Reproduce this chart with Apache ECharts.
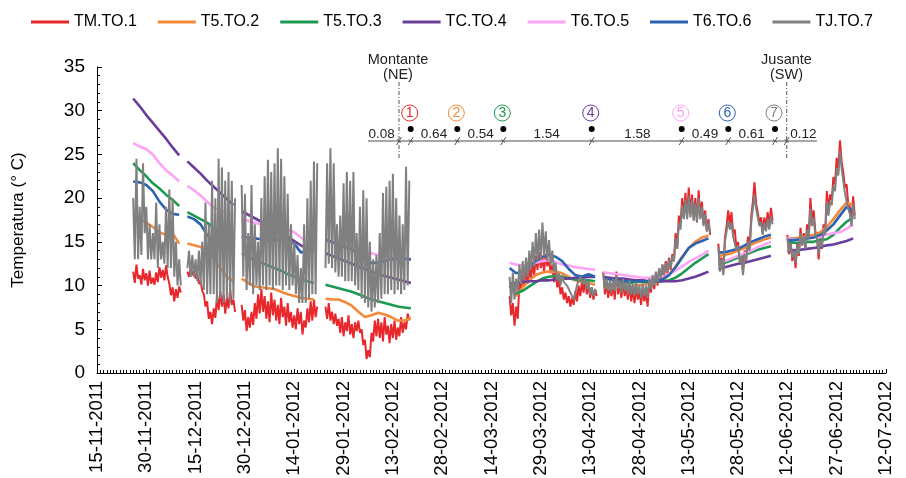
<!DOCTYPE html>
<html>
<head>
<meta charset="utf-8">
<script src="https://cdn.jsdelivr.net/npm/echarts@6/dist/echarts.min.js"></script>
<style>html,body{margin:0;padding:0;background:#fff}#c{width:906px;height:478px}</style>
</head>
<body>
<div id="c"></div>
<script>
// ---------- DATA ----------
// x = days since 15-11-2011; every segment starts at segStart[i]
const segStart = [11, 27.5, 44, 69.5, 125.5, 154, 189, 210];
const smoothStep = 2;   // smooth sensors: one reading every 2 days
const noisyStep = 0.5;  // TM.TO.1 and TJ.TO.7: one reading every half day
const xTickLabels = ['15-11-2011','30-11-2011','15-12-2011','30-12-2011','14-01-2012','29-01-2012','13-02-2012','28-02-2012','14-03-2012','29-03-2012','13-04-2012','28-04-2012','13-05-2012','28-05-2012','12-06-2012','27-06-2012','12-07-2012'];
const seriesNames = ['TM.TO.1','T5.TO.2','T5.TO.3','TC.TO.4','T6.TO.5','T6.TO.6','TJ.TO.7'];

const TM_TO_1 = [
  [11.6,10.3,12.4,10.8,11.2,10.1,11.9,10.6,11.4,10.0,11.7,10.2,10.9,10.1,11.5,10.4,12.1,10.9,11.8,10.6,12.3,11.0,10.2,8.9,9.8,8.2,9.6,8.6,9.9,9.2],
  [11.6,11.0,12.0,11.2,11.7,10.8,11.3,10.2,10.6,9.4,9.0,7.6,8.2,6.2,7.0,5.6,7.4,6.3,8.8,7.2,9.4,7.6,9.0,6.8,8.6,7.4,9.6,7.8,8.4,7.0],
  [7.8,6.0,7.2,4.8,6.4,5.2,7.0,5.5,8.0,6.2,9.0,6.8,9.6,7.0,8.8,6.2,8.2,5.8,9.2,6.6,8.4,6.0,7.8,5.6,8.6,6.4,7.6,5.4,8.0,5.8,7.0,5.2,6.6,5.0,7.4,5.6,7.0,4.4,6.0,5.2,7.4,5.8,8.2,6.0,8.4,6.4,7.6],
  [7.6,6.2,8.0,6.0,7.0,5.6,6.8,5.4,6.2,4.6,6.4,4.2,5.8,4.8,6.6,4.4,5.6,4.0,5.8,4.8,6.0,4.6,5.0,3.2,3.8,1.6,2.6,1.8,4.6,3.6,6.0,4.2,6.2,4.0,5.8,3.6,6.4,4.4,5.4,3.4,5.6,4.0,6.0,3.8,5.2,4.2,6.4,4.6,5.8,5.0,6.8,6.0],
  [8.8,6.6,8.0,5.4,7.6,6.2,10.5,9.4,11.2,10.0,11.8,10.2,12.0,10.8,12.6,11.2,13.4,11.8,13.8,12.0,13.2,11.6,13.6,12.2,13.0,11.4,12.4,10.4,11.6,9.8,10.6,9.0,9.8,8.4,9.2,8.0,8.8,7.6,8.6,7.8,9.4,8.2,10.0,8.8,10.4,9.2,10.8,9.0,10.2,8.6,9.8,8.4,9.4,8.8],
  [11.6,9.0,10.4,8.6,10.0,8.8,10.2,8.4,11.6,9.0,10.2,8.6,10.4,8.8,9.8,8.4,10.2,8.2,9.6,8.0,9.8,8.4,9.4,7.8,9.6,8.2,9.2,7.6,10.4,9.2,11.0,9.6,11.4,10.0,12.0,10.4,12.4,11.0,12.8,11.4,13.2,11.8,13.6,12.8,16.0,14.4,18.0,17.0,20.0,18.0,20.6,17.8,21.2,18.2,20.4,17.6,20.0,17.4,20.9,18.0,19.6,17.0,18.6,16.2,17.6,15.8],
  [14.8,12.0,13.2,11.4,15.4,16.8,18.6,17.0,18.4,16.0,16.4,14.2,15.0,13.0,13.6,11.6,14.0,13.2,15.6,14.2,17.8,19.6,21.8,19.4,19.6,17.2,17.8,16.0,17.8,16.6,18.4,16.8,18.9,17.4],
  [15.8,13.6,15.0,12.8,14.2,12.0,14.8,13.4,16.6,14.6,16.0,14.2,17.0,15.6,20.0,17.4,18.6,16.2,15.8,13.0,15.4,14.2,17.0,16.0,20.8,18.6,20.4,19.8,22.4,21.6,24.6,23.4,26.6,24.2,23.0,21.2,21.6,19.4,19.0,17.2,20.2,18.0]
];
const T5_TO_2 = [
  [18.0,17.6,17.2,16.7,16.1,15.8,16.0,14.8],
  [14.8,14.6,14.4,14.0,13.2,12.0,11.0,10.5],
  [10.8,10.3,9.9,9.8,9.7,9.6,9.3,9.0,8.8,8.6,8.5,8.4],
  [8.5,8.4,8.4,8.1,7.7,7.0,6.4,6.6,6.9,6.7,6.4,6.0,6.0,6.3],
  [10.0,8.8,9.8,10.6,11.2,11.5,11.6,11.6,11.4,11.0,10.6,10.4,10.3,10.1],
  [10.0,9.7,9.8,9.9,9.9,10.0,10.1,10.2,10.3,10.6,11.2,12.2,13.3,14.3,15.0,15.5,15.7],
  [13.4,13.5,13.7,14.0,14.3,14.7,15.0,15.3,15.5],
  [15.4,15.4,15.5,15.6,15.8,16.1,16.7,17.6,18.6,19.5,19.2]
];
const T5_TO_3 = [
  [24.0,23.2,22.5,21.7,21.1,20.4,19.8,19.1],
  [18.4,18.0,17.6,17.2,16.6,15.8,14.9,14.0],
  [13.7,13.3,12.9,12.6,12.3,12.0,11.7,11.3,11.0,10.7,10.5,10.3],
  [10.1,9.9,9.7,9.5,9.3,9.0,8.7,8.4,8.2,8.0,7.8,7.6,7.5,7.4],
  [10.0,9.1,9.4,9.9,10.4,10.8,11.0,11.1,11.0,10.8,10.7,10.6,10.6,10.5],
  [10.0,10.1,10.2,10.3,10.3,10.4,10.4,10.4,10.4,10.5,10.6,10.9,11.4,12.0,12.6,13.1,13.6],
  [12.4,12.6,12.9,13.2,13.5,13.8,14.1,14.3,14.5],
  [15.0,14.9,14.9,15.0,15.0,15.2,15.3,15.8,16.6,17.3,17.8]
];
const TC_TO_4 = [
  [31.4,30.5,29.5,28.6,27.7,26.8,25.8,24.9],
  [24.2,23.5,22.8,22.0,21.3,20.6,19.9,19.2],
  [18.5,18.1,17.7,17.3,16.9,16.5,16.1,15.6,15.1,14.6,14.2,13.9],
  [13.7,13.4,13.1,12.8,12.5,12.2,11.9,11.6,11.3,11.1,10.9,10.7,10.5,10.3],
  [10.2,10.3,10.4,10.5,10.5,10.6,10.6,10.7,10.8,10.8,10.9,10.9,11.0,11.0],
  [11.0,10.9,10.8,10.8,10.7,10.6,10.6,10.5,10.5,10.5,10.5,10.5,10.6,10.8,11.0,11.3,11.6],
  [11.9,12.1,12.3,12.5,12.6,12.8,13.0,13.2,13.4],
  [13.9,14.0,14.1,14.2,14.3,14.4,14.6,14.7,14.9,15.1,15.4]
];
const T6_TO_5 = [
  [26.3,25.9,25.6,25.0,24.0,23.2,22.6,21.9],
  [21.4,20.9,20.3,19.6,18.9,18.6,18.3,18.0],
  [17.6,17.4,17.2,17.0,16.8,16.7,16.6,16.4,16.1,15.5,15.0,14.5],
  [15.1,14.9,14.7,14.5,14.3,14.1,13.9,13.7,13.5,13.4,13.3,13.2,13.1,13.0],
  [12.6,12.4,12.3,12.4,12.6,12.8,12.9,12.7,12.4,12.3,12.1,12.0,11.9,11.8],
  [11.5,11.4,11.3,11.2,11.1,11.0,10.9,10.9,10.9,11.0,11.3,11.7,12.2,12.7,13.1,13.5,14.0],
  [12.6,12.8,13.1,13.4,13.7,14.0,14.4,14.7,15.0],
  [15.4,15.3,15.3,15.4,15.5,15.6,15.8,16.0,16.1,16.5,17.0]
];
const T6_TO_6 = [
  [21.9,21.8,21.5,20.8,19.6,18.7,18.2,18.1],
  [17.9,17.6,17.0,15.8,15.2,15.0,14.8,14.6],
  [15.6,15.5,15.4,15.3,15.2,15.2,15.3,15.3,14.8,13.8,13.9,14.1],
  [15.3,15.0,14.7,14.4,14.1,13.6,12.9,12.6,12.6,12.8,13.0,13.1,13.1,13.0],
  [12.0,11.4,11.6,12.2,12.8,13.3,13.5,13.3,12.8,11.9,11.2,11.0,11.3,11.0],
  [10.8,10.7,10.6,10.5,10.5,10.5,10.5,10.5,10.6,10.7,11.2,12.1,13.2,14.3,14.8,15.1,15.4],
  [13.8,13.8,14.0,14.2,14.6,15.0,15.3,15.6,15.8],
  [15.2,15.2,15.3,15.4,15.5,15.8,16.3,17.0,18.0,19.0,18.5]
];
const TJ_TO_7 = [
  [20,13,24.5,13,19,13.5,24,16,19,13,17,13,16,13,19.5,12,17,13,15,12.5,19,12,21,12,20,11,15,10,13,10],
  [12,14,11,13.5,11,13,10.5,14,10,15,9.5,19.5,9,17,9,22,9,20,8,24.5,8.5,23.5,8,22,8.5,23,8,22,8.5,20],
  [21.5,11,20.5,9.5,16,10,21.5,9,17,10,15,9.5,20,10,22.5,9.5,24.4,10,23,9.5,24,10,25.7,10,24.5,9.5,22.5,10,20.5,9.5,17,10,15,9,13.5,8,12,8,17,8,20,8.5,22,9,24.2,9,24],
  [12,24,12.5,25.7,12,24,11.5,17,11,18,11,21.7,10.5,23,10.5,22,10.5,23,10,16,9.5,19,8.5,20.9,8,20,7.5,15,7,13,7.5,13.5,8,16,8.5,20.6,9,21.3,9,22,9.5,22.8,9,20,9.5,18,9,17,9.5,23.6,10,22],
  [11.0,8.0,11.5,8.4,10.8,9.2,12.4,10.2,12.8,10.6,13.2,11.0,14.0,11.8,15.0,12.2,16.0,12.8,16.4,13.0,17.2,13.4,16.2,12.8,15.2,12.4,14.0,11.6,12.6,10.6,11.4,10.0,11.2,10.4,10.6,10.0,9.6,9.2,8.8,8.4,9.2,10.0,10.6,11.0,11.2,10.2,10.8,9.6,10.4,9.0,9.8,8.8,9.6,9.2],
  [11.4,9.6,10.8,9.4,10.6,9.2,10.8,9.4,11.2,9.6,10.6,9.2,10.8,9.4,10.4,9.0,10.6,9.0,10.2,8.8,10.4,9.0,10.0,8.6,10.2,8.8,10.0,8.6,10.8,9.6,11.2,10.0,11.6,10.4,12.0,10.8,12.4,11.2,12.6,11.6,13.0,12.0,13.4,12.8,15.4,14.2,17.2,16.4,19.2,17.6,19.8,17.6,20.2,17.8,19.8,17.4,19.4,17.2,20.0,17.6,19.0,16.8,18.2,16.2,17.2,16.0],
  [14.4,11.6,13.0,11.2,15.0,16.2,17.4,16.4,17.2,15.6,15.8,14.0,14.6,12.6,13.4,11.2,13.6,12.8,15.0,14.0,17.2,18.8,20.4,18.8,19.0,16.8,17.2,15.8,17.2,16.2,17.6,16.4,18.0,17.0],
  [15.4,13.8,14.8,13.2,14.0,12.6,14.6,13.6,16.0,14.6,15.6,14.2,16.4,15.4,18.8,16.8,17.8,15.8,15.4,13.6,15.2,14.4,16.4,15.8,19.6,18.0,19.6,19.2,21.4,20.8,23.4,22.6,25.4,23.4,22.0,20.6,20.6,18.8,18.2,16.8,19.4,17.6]
];

// inset diagram (schematic of sensor positions along the river)
const insetDistances = ['0.08','0.64','0.54','1.54','1.58','0.49','0.61','0.12'];
const sensorIds = ['1','2','3','4','5','6','7'];

// ---------- STYLE / LAYOUT ----------
const colors = ['#e8282d','#f5893a','#1d9a50','#6a3d9b','#fda4f6','#2b63b1','#808080'];
const widths = [2, 2.6, 2.6, 2.6, 2.6, 2.6, 2];
const FONT = '"Liberation Sans", Arial, Helvetica, sans-serif';
const insetSensorPx = [410.7, 457.3, 503.3, 591.7, 681.7, 728.3, 775];
const insetBoundPx = [399, 786.7];
const insetDistPx = [381.7, 434, 480.7, 546.7, 637.3, 705, 751.7, 803.3];
const lineY = 141;

function build(segs, step) {
  const out = [];
  segs.forEach((vals, i) => {
    if (i > 0) out.push([segStart[i] - 1, null]);
    vals.forEach((v, j) => out.push([segStart[i] + j * step, v]));
  });
  return out;
}
const allData = [
  build(TM_TO_1, noisyStep), build(T5_TO_2, smoothStep), build(T5_TO_3, smoothStep),
  build(TC_TO_4, smoothStep), build(T6_TO_5, smoothStep), build(T6_TO_6, smoothStep),
  build(TJ_TO_7, noisyStep)
];

// graphic inset
const g = [];
const txt = (t, x, y, size, color) => ({type:'text', x:x, y:y, z:52,
  style:{text:t, font:size+'px '+FONT, fill:color, align:'center', verticalAlign:'middle', textAlign:'center', textVerticalAlign:'middle'}});
g.push({type:'line', shape:{x1:368, y1:lineY, x2:817, y2:lineY}, style:{stroke:'#8a8a8a', lineWidth:1.5}, z:50});
insetBoundPx.forEach(x => g.push({type:'line', shape:{x1:x, y1:82, x2:x, y2:158}, style:{stroke:'#555', lineWidth:1, lineDash:[4,2,1,2]}, z:50}));
[...insetBoundPx, ...insetSensorPx].forEach(x => {
  g.push({type:'line', shape:{x1:x-2.5, y1:lineY+4, x2:x+2.5, y2:lineY-4}, style:{stroke:'#555', lineWidth:1}, z:51});
  g.push({type:'line', shape:{x1:x-2, y1:lineY-1.5, x2:x+2, y2:lineY+1.5}, style:{stroke:'#555', lineWidth:1}, z:51});
});
insetSensorPx.forEach((x, i) => {
  g.push({type:'circle', shape:{cx:x, cy:129, r:3}, style:{fill:'#000'}, z:51});
  g.push({type:'circle', shape:{cx:x-1, cy:113, r:8}, style:{fill:'#fff', stroke:colors[i], lineWidth:1}, z:51});
  g.push(txt(sensorIds[i], x-1, 113.5, 14, colors[i]));
});
insetDistances.forEach((t, i) => g.push(txt(t, insetDistPx[i], 134, 13.5, '#222')));
[['Montante','(NE)',398],['Jusante','(SW)',786.5]].forEach(([a,b,x]) => {
  g.push(txt(a, x, 59.5, 14.5, '#222'));
  g.push(txt(b, x, 75, 14.5, '#222'));
});

const chart = echarts.init(document.getElementById('c'), null, {renderer:'canvas'});
chart.setOption({
  animation: false,
  backgroundColor: '#fff',
  textStyle: {fontFamily: FONT},
  legend: {
    top: 9, left: 26, itemGap: 21, itemWidth: 38, itemHeight: 3, icon: 'rect',
    textStyle: {fontSize: 16, color: '#000', fontFamily: FONT},
    data: seriesNames
  },
  grid: {left: 97, right: 20, top: 67, bottom: 105, containLabel: false, outerBoundsMode: 'none'},
  xAxis: {
    type: 'value', min: 0, max: 240, interval: 15,
    axisLine: {show: true, lineStyle: {color: '#000', width: 1}},
    axisTick: {show: true, inside: true, length: 4, lineStyle: {color: '#000'}},
    minorTick: {show: true, splitNumber: 15, length: 3, lineStyle: {color: '#000'}},
    splitLine: {show: false}, minorSplitLine: {show: false},
    axisLabel: {rotate: 90, fontSize: 18.5, color: '#000', margin: 8, fontFamily: FONT,
      formatter: v => xTickLabels[Math.round(v / 15)] || ''}
  },
  yAxis: {
    type: 'value', min: 0, max: 35, interval: 5,
    name: 'Temperatura (° C)', nameLocation: 'middle', nameGap: 70,
    nameTextStyle: {fontSize: 17, color: '#000', fontFamily: FONT},
    axisLine: {show: true, lineStyle: {color: '#000', width: 1}},
    axisTick: {show: true, inside: true, length: 5, lineStyle: {color: '#000'}},
    minorTick: {show: true, splitNumber: 5, length: 3, lineStyle: {color: '#000'}},
    splitLine: {show: false}, minorSplitLine: {show: false},
    axisLabel: {fontSize: 19, color: '#000', margin: 12, fontFamily: FONT}
  },
  graphic: g,
  series: seriesNames.map((n, i) => ({
    name: n, type: 'line', data: allData[i], showSymbol: false, symbol: 'none',
    connectNulls: false, clip: true,
    lineStyle: {color: colors[i], width: widths[i]}, itemStyle: {color: colors[i]},
    emphasis: {disabled: true}
  }))
});
</script>
</body>
</html>
